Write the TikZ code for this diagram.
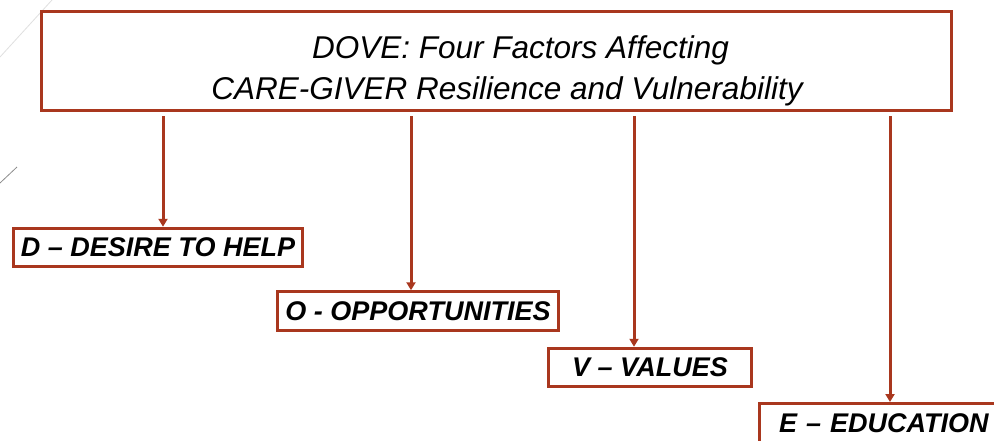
\documentclass[tikz,border=0pt]{standalone}
\usepackage{fontspec}
\setmainfont{Liberation Sans}
\usetikzlibrary{arrows.meta}
\definecolor{rust}{RGB}{169,55,30}
\begin{document}
\begin{tikzpicture}[x=1pt,y=-1pt,
  topbox/.style={draw=rust,line width=3pt,fill=white,inner sep=0pt,minimum width=910pt,minimum height=99pt},
  factor/.style={draw=rust,line width=3pt,fill=white,inner sep=0pt,minimum height=38.5pt,
    font=\fontsize{27}{30}\selectfont\bfseries\itshape},
  conn/.style={draw=rust,line width=3pt,-{Triangle[width=9pt,length=8pt]}}]
\useasboundingbox (0,0) rectangle (994,440);
\clip (0,0) rectangle (994,440);
\fill[white] (0,0) rectangle (994,440);
% faint background strokes
\draw[black!12,line width=0.8pt] (0,57) -- (52,0);
\draw[black!45,line width=0.8pt] (0,183) -- (17,167);
% title
\node[topbox] (top) at (496.5,61) {};
\node[font=\fontsize{31.5}{41}\selectfont\itshape,align=center,inner sep=0pt,anchor=base] (title) at (507,99)
  {\hspace*{27pt}DOVE: Four Factors Affecting\\CARE-GIVER Resilience and Vulnerability};
% factors
\node[factor,minimum width=289pt] (d) at (158,247.5) {D – DESIRE TO HELP};
\node[factor,minimum width=281pt] (o) at (418,311) {O - OPPORTUNITIES};
\node[factor,minimum width=203pt] (v) at (650,367.5) {V – VALUES};
\node[factor,minimum width=300pt,anchor=north west,text width=280pt,align=left,inner xsep=19.5pt] (e) at (758,402) {E – EDUCATION};
% connectors
\coordinate (sd) at (163,116);
\coordinate (so) at (411,116);
\coordinate (sv) at (634,116);
\coordinate (se) at (890,116);
\draw[conn] (sd) -- (sd |- d.north);
\draw[conn] (so) -- (so |- o.north);
\draw[conn] (sv) -- (sv |- v.north);
\draw[conn] (se) -- (se |- e.north);
\end{tikzpicture}
\end{document}
